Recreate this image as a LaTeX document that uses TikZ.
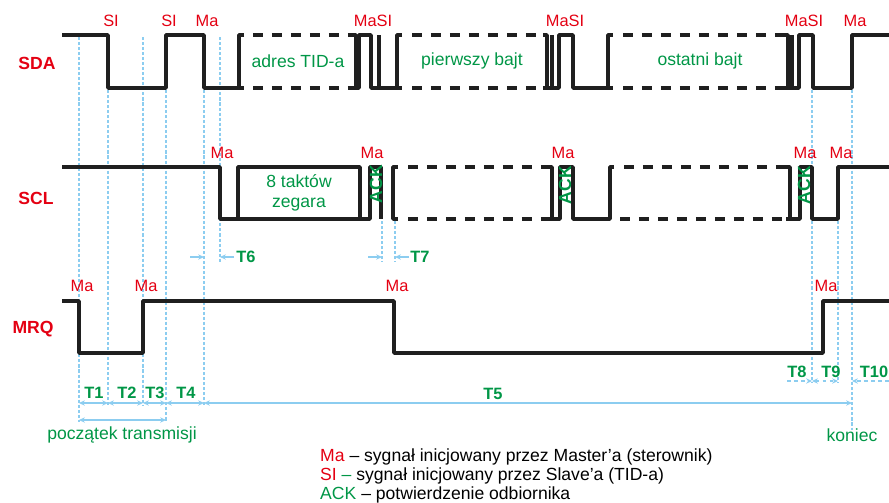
\documentclass[tikz,border=0pt]{standalone}
\usepackage{fontspec}
\setmainfont{Liberation Sans}
\usetikzlibrary{arrows.meta}
\definecolor{sigred}{RGB}{228, 0, 18}
\definecolor{siggreen}{RGB}{0, 150, 70}
\definecolor{guideblue}{RGB}{140, 205, 240}

\begin{document}
\begin{tikzpicture}[
  x=0.03cm, y=-0.03cm,
  every node/.style={inner sep=0pt, font=\fontsize{15}{17}\selectfont},
  wave/.style={line width=3pt, draw=black!88, line join=round},
  bus/.style={wave, dash pattern=on 8.5pt off 7.7pt},
  guide/.style={guideblue, line width=1.3pt, dash pattern=on 2.6pt off 1.7pt},
  tarr/.style={{Stealth[length=5pt,width=4.5pt]}-{Stealth[length=5pt,width=4.5pt]}, guideblue, line width=1.3pt},
  tin/.style={-{Stealth[length=5pt,width=4.5pt]}, guideblue, line width=1.3pt},
  line/.style={text=sigred, font=\fontsize{15}{17}\selectfont\bfseries},
  who/.style={text=sigred, font=\fontsize{14}{16}\selectfont},
  note/.style={text=siggreen, align=center},
  tname/.style={text=siggreen, font=\fontsize{14}{16}\selectfont\bfseries},
  ack/.style={text=siggreen, font=\fontsize{15}{17}\selectfont\bfseries, rotate=90}
]
  \useasboundingbox (0,0) rectangle (889,503);

  % guide lines
  \foreach \x/\a/\b in {79/37/422, 108/90/405, 143/37/405, 166/90/422, 204/90/405,
      220/37/262, 382/221/262, 395/221/262, 812/90/383, 838/221/383, 852/90/430}
    \draw[guide] (\x,\a) -- (\x,\b);

  % SDA
  \draw[wave] (62,35) -- (108,35) -- (108,88) -- (166,88) -- (166,35) -- (204,35)
    -- (204,88) -- (244,88) (244,35) -- (239,35) -- (239,88);
  \draw[bus] (253,35) -- (351,35) (253,88) -- (351,88);
  \draw[wave] (351,35) -- (356,35) -- (356,88) (351,88) -- (359,88) -- (359,35) -- (371,35)
    -- (371,88) -- (402,88) (379,88) -- (379,35) (402,35) -- (397,35) -- (397,88);
  \draw[bus] (412,35) -- (543,35) (412,88) -- (543,88);
  \draw[wave] (543,35) -- (547,35) -- (547,88) (543,88) -- (559,88) -- (559,35) -- (573,35)
    -- (573,88) -- (613,88) (552,88) -- (552,35) (613,35) -- (608,35) -- (608,88);
  \draw[bus] (623,35) -- (784,35) (623,88) -- (784,88);
  \draw[wave] (784,35) -- (788,35) -- (788,88) (784,88) -- (799,88) -- (799,35) -- (813,35)
    -- (813,88) -- (852,88) -- (852,35) -- (889,35) (792,88) -- (792,35);

  % SCL
  \draw[wave] (62,167) -- (220,167) -- (220,219) -- (370,219) -- (370,167) -- (381,167)
    -- (381,219) (238,219) -- (238,167) -- (360,167) -- (360,219);
  \draw[wave] (398,167) -- (393,167) -- (393,219) -- (398,219);
  \draw[bus] (408,167) -- (548,167) (408,219) -- (548,219);
  \draw[wave] (548,167) -- (552,167) -- (552,219) (548,219) -- (560,219) -- (560,167)
    -- (573,167) -- (573,219) -- (610,219) -- (610,167) -- (614,167);
  \draw[bus] (624,167) -- (786,167) (620,219) -- (786,219);
  \draw[wave] (786,167) -- (790,167) -- (790,219) (786,219) -- (800,219) -- (800,167)
    -- (812,167) -- (812,219) -- (838,219) -- (838,167) -- (889,167);

  % MRQ
  \draw[wave] (62,301) -- (79,301) -- (79,353) -- (143,353) -- (143,301) -- (394,301)
    -- (394,353) -- (823,353) -- (823,301) -- (889,301);

  \node[line] (sda) at (37,63) {SDA};
  \node[line] (scl) at (36,198) {SCL};
  \node[line] (mrq) at (33,329) {MRQ};

  \node[who] (sda-si1) at (111,21) {SI};
  \node[who] (sda-si2) at (169,21) {SI};
  \node[who] (sda-ma1) at (207,21) {Ma};
  \node[who] (sda-ack1) at (373,21) {MaSI};
  \node[who] (sda-ack2) at (565,21) {MaSI};
  \node[who] (sda-ack3) at (804,21) {MaSI};
  \node[who] (sda-ma2) at (855,21) {Ma};

  \node[who] (scl-ma1) at (222,153) {Ma};
  \node[who] (scl-ma2) at (372,153) {Ma};
  \node[who] (scl-ma3) at (563,153) {Ma};
  \node[who] (scl-ma4) at (805,153) {Ma};
  \node[who] (scl-ma5) at (841,153) {Ma};

  \node[who] (mrq-ma1) at (82,286) {Ma};
  \node[who] (mrq-ma2) at (146,286) {Ma};
  \node[who] (mrq-ma3) at (397,286) {Ma};
  \node[who] (mrq-ma4) at (826,286) {Ma};

  \node[note] (adr) at (298,61) {adres TID-a};
  \node[note] (first) at (472,61) {pierwszy bajt};
  \node[note] (last) at (700,61) {ostatni bajt};
  \node[note] (clk) at (299,193) {8 taktów\\zegara};

  \node[ack] (ack1) at (376,184) {ACK};
  \node[ack] (ack2) at (565,185) {ACK};
  \node[ack] (ack3) at (804,185) {ACK};

  % time marks
  \foreach \n/\x in {a/79, b/108, c/143, d/166, e/204, f/852}
    \coordinate (r\n) at (\x,403);
  \draw[tarr] (ra) -- (rb);
  \draw[tarr] (rb) -- (rc);
  \draw[tarr] (rc) -- (rd);
  \draw[tarr] (rd) -- (re);
  \draw[tarr] (re) -- (rf);
  \coordinate (sa) at (79,420);
  \coordinate (sb) at (166,420);
  \draw[tarr] (sa) -- (sb);

  \coordinate (p6a) at (190,257);
  \coordinate (p6b) at (204,257);
  \coordinate (p6c) at (220,257);
  \coordinate (p6d) at (234,257);
  \draw[tin] (p6a) -- (p6b);
  \draw[tin] (p6d) -- (p6c);
  \coordinate (p7a) at (368,257);
  \coordinate (p7b) at (382,257);
  \coordinate (p7c) at (395,257);
  \coordinate (p7d) at (409,257);
  \draw[tin] (p7a) -- (p7b);
  \draw[tin] (p7d) -- (p7c);

  \coordinate (q8) at (787,381);
  \coordinate (q9a) at (812,381);
  \coordinate (q9b) at (838,381);
  \coordinate (q10a) at (852,381);
  \coordinate (q10b) at (889,381);
  \draw[tin, dashed] (q8) -- (q9a);
  \draw[tarr, dashed] (q9a) -- (q9b);
  \draw[tin, dashed] (q10b) -- (q10a);

  \node[tname] (t1) at (94,393) {T1};
  \node[tname] (t2) at (127,393) {T2};
  \node[tname] (t3) at (155,393) {T3};
  \node[tname] (t4) at (186,393) {T4};
  \node[tname] (t5) at (493,394) {T5};
  \node[tname] (t6) at (246,257) {T6};
  \node[tname] (t7) at (420,257) {T7};
  \node[tname] (t8) at (797,372) {T8};
  \node[tname] (t9) at (831,372) {T9};
  \node[tname] (t10) at (874,372) {T10};

  \node[note] (start) at (122,435) {początek transmisji};
  \node[note] (stop) at (852,435) {koniec};

  % legend
  \node[anchor=base west] (key1) at (320,461) {\textcolor{sigred}{Ma} -- sygnał inicjowany przez Master’a (sterownik)};
  \node[anchor=base west] (key2) at (320,480) {\textcolor{sigred}{SI} \textcolor{siggreen}{--} sygnał inicjowany przez Slave’a (TID-a)};
  \node[anchor=base west] (key3) at (320,499) {\textcolor{siggreen}{ACK} -- potwierdzenie odbiornika};
\end{tikzpicture}
\end{document}
